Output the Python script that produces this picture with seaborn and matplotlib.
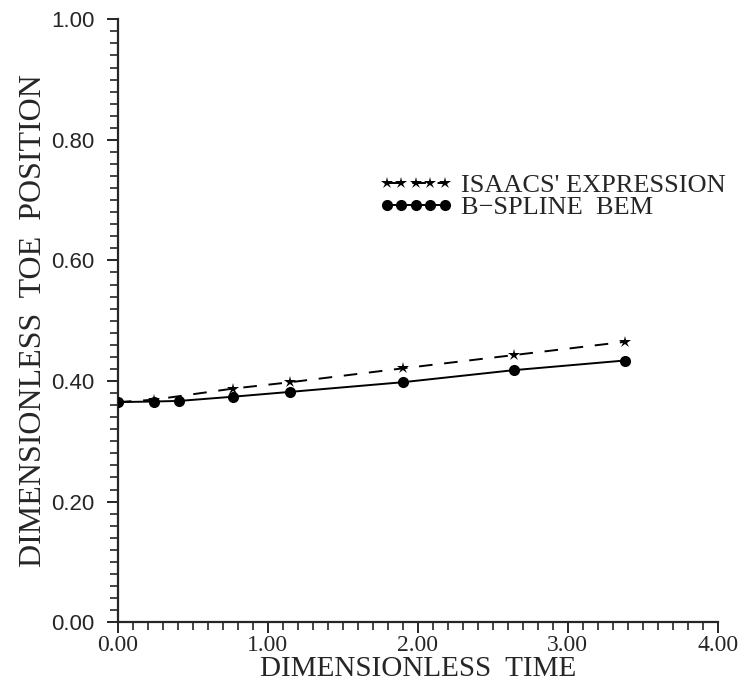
import numpy as np
import pandas as pd
import seaborn as sns
from matplotlib import pyplot as plt
from matplotlib.ticker import MultipleLocator, FormatStrFormatter

# values
time_bem = [0.0, 0.24, 0.41, 0.77, 1.15, 1.90, 2.64, 3.38]
toe_bem = [0.365, 0.366, 0.367, 0.374, 0.382, 0.398, 0.418, 0.434]
time_isaacs = [0.0, 0.24, 0.77, 1.15, 1.90, 2.64, 3.38]
toe_isaacs = [0.365, 0.369, 0.3875, 0.398, 0.421, 0.443, 0.465]

label_isaacs = "ISAACS' EXPRESSION"
label_bem = "B\u2212SPLINE  BEM"
x_title = "DIMENSIONLESS  TIME"
y_title = "DIMENSIONLESS  TOE  POSITION"

bem = pd.DataFrame({'t': time_bem, 'pos': toe_bem})
isaacs = pd.DataFrame({'t': time_isaacs, 'pos': toe_isaacs})

sns.set_style("ticks")
plt.rcParams['font.family'] = ['Liberation Serif', 'DejaVu Serif']

fig = plt.figure(figsize=(7.46, 6.89), dpi=100)
ax = fig.add_axes([0.158, 0.097, 0.804, 0.875])

sns.lineplot(x='t', y='pos', data=isaacs, ax=ax, color='black', marker='*',
             markersize=9, markeredgewidth=0, linewidth=1.4,
             linestyle=(0, (7, 6)), label=label_isaacs, zorder=2)
sns.lineplot(x='t', y='pos', data=bem, ax=ax, color='black', marker='o',
             markersize=8, markeredgewidth=0, linewidth=1.4,
             label=label_bem, zorder=3)

ax.set_xlim(0, 4)
ax.set_ylim(0, 1)
ax.xaxis.set_major_locator(MultipleLocator(1.0))
ax.xaxis.set_minor_locator(MultipleLocator(0.1))
ax.yaxis.set_major_locator(MultipleLocator(0.2))
ax.yaxis.set_minor_locator(MultipleLocator(0.02))
ax.xaxis.set_major_formatter(FormatStrFormatter('%.2f'))
ax.yaxis.set_major_formatter(FormatStrFormatter('%.2f'))

ax.tick_params(which='major', direction='out', length=8, width=1.4, labelsize=17)
ax.tick_params(which='minor', direction='out', length=5.5, width=1.2)
ax.tick_params(axis='x', pad=1)
ax.tick_params(axis='y', pad=9)
for lab in ax.get_yticklabels():
    lab.set_family(['Liberation Sans', 'DejaVu Sans'])
    lab.set_fontsize(16)

sns.despine(ax=ax)
for sp in ['left', 'bottom']:
    ax.spines[sp].set_linewidth(1.6)

ax.set_xlabel(x_title, fontsize=21, labelpad=0)
ax.set_ylabel(y_title, fontsize=23, labelpad=2)

ax.legend(loc='upper left', bbox_to_anchor=(0.508, 0.748),
          bbox_transform=fig.transFigure, frameon=False, numpoints=5,
          handlelength=2.8, handletextpad=0.3, labelspacing=-0.05,
          borderpad=0, borderaxespad=0, fontsize=19)

plt.savefig('out.png', dpi=100)
